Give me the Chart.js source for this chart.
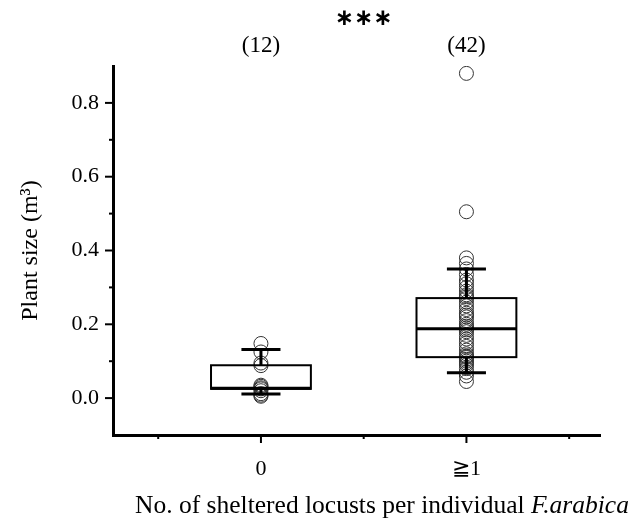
<!DOCTYPE html>
<html><head><meta charset="utf-8">
<script src="https://cdn.jsdelivr.net/npm/chart.js@4/dist/chart.umd.min.js"></script>
<style>html,body{margin:0;padding:0;background:#fff}#wrap{width:642px;height:524px}</style>
</head><body><div id="wrap"><canvas id="c" width="642" height="524"></canvas></div>
<script>
const categories = ['0', '≧1'];
const categoryX = [0, 1];
const counts = ['(12)', '(42)'];
const group0 = [0.005, 0.008, 0.012, 0.02, 0.025, 0.028, 0.032, 0.035, 0.088, 0.095, 0.125, 0.148];
const group1 = [0.045, 0.06, 0.07, 0.08, 0.09, 0.095, 0.10, 0.105, 0.11, 0.112, 0.115,
  0.12, 0.13, 0.14, 0.15, 0.16, 0.17, 0.18, 0.185, 0.19,
  0.195, 0.20, 0.21, 0.22, 0.225, 0.23, 0.24, 0.25, 0.26, 0.27,
  0.275, 0.28, 0.29, 0.30, 0.31, 0.32, 0.335, 0.35, 0.365, 0.38,
  0.505, 0.88];
const q1 = [0.025, 0.111];
const medians = [0.027, 0.188];
const q3 = [0.089, 0.271];
const whiskerLow = [0.011, 0.069];
const whiskerHigh = [0.132, 0.350];
const yTicks = [0, 0.1, 0.2, 0.3, 0.4, 0.5, 0.6, 0.7, 0.8];
const xTicks = [-0.5, 0, 0.5, 1, 1.5];
const significance = '∗∗∗';

const FONT = '"Liberation Serif", "Times New Roman", serif';
const toPts = (arr, x) => arr.map(v => ({x: x, y: v}));

const boxPlugin = {
  id: 'boxes',
  afterDatasetsDraw(chart) {
    const ctx = chart.ctx, xs = chart.scales.x, ys = chart.scales.y;
    ctx.save();
    ctx.strokeStyle = '#000';
    categoryX.forEach((cx, i) => {
      const l = xs.getPixelForValue(cx - 0.243), r = xs.getPixelForValue(cx + 0.243);
      const cl = xs.getPixelForValue(cx - 0.095), cr = xs.getPixelForValue(cx + 0.095);
      const xc = xs.getPixelForValue(cx);
      const yq1 = ys.getPixelForValue(q1[i]), yq3 = ys.getPixelForValue(q3[i]);
      const ym = ys.getPixelForValue(medians[i]);
      const ylo = ys.getPixelForValue(whiskerLow[i]), yhi = ys.getPixelForValue(whiskerHigh[i]);
      ctx.lineWidth = 3;
      ctx.beginPath();
      ctx.moveTo(xc, yq3); ctx.lineTo(xc, yhi);
      ctx.moveTo(xc, yq1); ctx.lineTo(xc, ylo);
      ctx.moveTo(cl, yhi); ctx.lineTo(cr, yhi);
      ctx.moveTo(cl, ylo); ctx.lineTo(cr, ylo);
      ctx.stroke();
      ctx.lineWidth = 2;
      ctx.strokeRect(l, yq3, r - l, yq1 - yq3);
      ctx.lineWidth = 3;
      ctx.beginPath(); ctx.moveTo(l, ym); ctx.lineTo(r, ym); ctx.stroke();
    });
    ctx.restore();
  },
  afterDraw(chart) {
    const ctx = chart.ctx, xs = chart.scales.x, ys = chart.scales.y, ca = chart.chartArea;
    ctx.save();
    ctx.strokeStyle = '#000'; ctx.fillStyle = '#000';
    ctx.lineWidth = 2;
    yTicks.forEach(v => {
      const major = Math.round(v * 10) % 2 === 0;
      const yp = ys.getPixelForValue(v);
      ctx.beginPath(); ctx.moveTo(ca.left, yp); ctx.lineTo(ca.left - (major ? 8 : 4), yp); ctx.stroke();
    });
    xTicks.forEach(v => {
      const major = Number.isInteger(v);
      const xp = xs.getPixelForValue(v);
      ctx.beginPath(); ctx.moveTo(xp, ca.bottom); ctx.lineTo(xp, ca.bottom + (major ? 8 : 4)); ctx.stroke();
    });
    ctx.textAlign = 'center'; ctx.textBaseline = 'middle';
    ctx.font = '23px ' + FONT;
    categoryX.forEach((cx, i) => ctx.fillText(counts[i], xs.getPixelForValue(cx), 46));
    ctx.font = 'bold 23px "DejaVu Sans", sans-serif';
    ctx.fillText(significance, xs.getPixelForValue((categoryX[0] + categoryX[1]) / 2), 19);
    ctx.save();
    ctx.translate(31, (ca.top + ca.bottom) / 2);
    ctx.rotate(-Math.PI / 2);
    ctx.font = '24px ' + FONT;
    ctx.fillText('Plant size (m³)', 0, 0);
    ctx.restore();
    const t1 = 'No. of sheltered locusts per individual ', t2 = 'F.arabica';
    const fs = 25.5;
    ctx.font = fs + 'px ' + FONT; const w1 = ctx.measureText(t1).width;
    ctx.font = 'italic ' + fs + 'px ' + FONT; const w2 = ctx.measureText(t2).width;
    const start = 382 - (w1 + w2) / 2;
    ctx.textAlign = 'left';
    ctx.font = fs + 'px ' + FONT; ctx.fillText(t1, start, 506);
    ctx.font = 'italic ' + fs + 'px ' + FONT; ctx.fillText(t2, start + w1, 506);
    ctx.restore();
  }
};

new Chart(document.getElementById('c'), {
  type: 'scatter',
  data: {
    datasets: [
      {data: toPts(group0, categoryX[0])},
      {data: toPts(group1, categoryX[1])}
    ]
  },
  options: {
    responsive: false, animation: false,
    layout: {padding: {top: 66, right: 42, left: 0, bottom: 0}},
    elements: {point: {radius: 7, borderWidth: 1, borderColor: '#333', backgroundColor: 'rgba(0,0,0,0)'}},
    plugins: {legend: {display: false}, tooltip: {enabled: false}},
    scales: {
      x: {
        type: 'linear', min: -0.72, max: 1.65,
        afterBuildTicks: s => { s.ticks = categoryX.map(v => ({value: v})); },
        afterFit: s => { s.height = 89; },
        grid: {display: false, drawTicks: false},
        border: {display: true, color: '#000', width: 3},
        ticks: {padding: 21, color: '#000', font: {family: FONT, size: 22},
          callback: v => { const i = categoryX.indexOf(v); return i >= 0 ? categories[i] : ''; }}
      },
      y: {
        min: -0.1, max: 0.9,
        afterBuildTicks: s => { s.ticks = [0, 0.2, 0.4, 0.6, 0.8].map(v => ({value: v})); },
        afterFit: s => { s.width = 113; },
        grid: {display: false, drawTicks: false},
        border: {display: true, color: '#000', width: 3},
        ticks: {padding: 14, color: '#000', font: {family: FONT, size: 22},
          callback: v => v.toFixed(1)}
      }
    }
  },
  plugins: [boxPlugin]
});
</script></body></html>
